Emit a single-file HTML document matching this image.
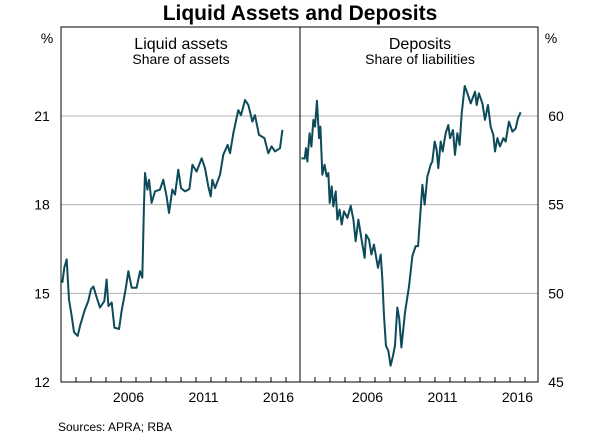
<!DOCTYPE html>
<html><head><meta charset="utf-8"><style>
body{margin:0;background:#fff;}
svg text{font-family:"Liberation Sans",Arial,sans-serif;fill:#000;}
</style></head><body>
<svg width="600" height="438" viewBox="0 0 600 438">
<g id="grid"></g>
<g id="lines"></g>
<g id="axes"></g>
<text x="300" y="20" font-size="21" font-weight="bold" text-anchor="middle">Liquid Assets and Deposits</text>
<text x="181" y="49" font-size="16" text-anchor="middle">Liquid assets</text>
<text x="181" y="64" font-size="14" text-anchor="middle">Share of assets</text>
<text x="420" y="49" font-size="16" text-anchor="middle">Deposits</text>
<text x="420" y="64" font-size="14" text-anchor="middle">Share of liabilities</text>
<text x="47" y="43" font-size="14" text-anchor="middle">%</text>
<text x="551" y="43" font-size="14" text-anchor="middle">%</text>
<text x="58" y="431" font-size="12">Sources:   APRA; RBA</text>
</svg>
<script>
const leftYears=[.09,.22,.38,.53,.71,.87,1.11,1.27,1.56,1.82,2.0,2.16,2.38,2.6,2.89,3.04,3.16,3.38,3.56,3.87,4.04,4.31,4.49,4.71,5.04,5.27,5.42,5.53,5.6,5.76,5.87,6.04,6.27,6.6,6.82,7.04,7.2,7.42,7.6,7.82,8.0,8.27,8.56,8.76,9.04,9.38,9.6,9.82,9.98,10.09,10.27,10.6,10.82,11.11,11.27,11.49,11.82,12.0,12.27,12.49,12.76,12.93,13.2,13.56,13.82,14.04,14.27,14.6,14.76];
const leftValues=[15.36,15.87,16.15,14.8,14.24,13.68,13.56,13.9,14.4,14.74,15.14,15.23,14.86,14.52,14.74,15.47,14.57,14.69,13.84,13.79,14.4,15.14,15.75,15.19,15.19,15.75,15.53,17.94,19.07,18.51,18.84,18.06,18.45,18.51,18.84,18.28,17.72,18.51,18.34,19.18,18.56,18.45,18.53,19.35,19.12,19.57,19.24,18.62,18.28,18.84,18.56,19.01,19.69,20.02,19.74,20.42,21.2,21.03,21.54,21.37,20.81,21.03,20.36,20.25,19.74,19.97,19.8,19.91,20.53];
const rightYears=[.09,.31,.4,.49,.64,.76,.89,1.0,1.13,1.27,1.36,1.49,1.64,1.78,1.89,1.98,2.11,2.22,2.38,2.49,2.64,2.78,2.93,3.16,3.38,3.56,3.71,3.89,4.16,4.31,4.4,4.6,4.76,4.93,5.2,5.38,5.49,5.6,5.73,5.89,6.04,6.2,6.33,6.49,6.62,6.76,7.0,7.27,7.49,7.71,7.87,7.98,8.16,8.31,8.49,8.71,8.82,8.98,9.11,9.22,9.38,9.51,9.71,9.89,10.0,10.2,10.33,10.49,10.64,10.78,10.98,11.16,11.38,11.67,11.78,11.93,12.16,12.33,12.53,12.71,12.89,13.0,13.16,13.33,13.56,13.71,13.93,14.16,14.38,14.53,14.71];
const rightValues=[57.62,57.6,58.19,57.43,59.03,58.28,59.78,59.4,60.86,58.75,59.4,56.69,57.25,56.59,56.78,55.1,56.03,54.9,55.75,54.16,54.72,53.88,54.62,54.25,54.94,54.16,52.94,54.16,52.75,52.0,53.31,53.03,52.19,52.75,51.44,52.19,50.79,48.73,47.04,46.76,45.92,46.48,47.04,49.2,48.54,46.95,48.92,50.41,52.1,52.66,52.66,53.97,56.12,55.0,56.59,57.25,57.43,58.56,58.09,57.06,58.56,58.0,59.03,59.49,58.75,59.21,57.81,59.03,58.37,60.15,61.69,61.28,60.71,61.37,60.62,61.28,60.71,59.78,60.62,59.4,58.93,58.0,58.75,58.28,58.75,58.56,59.68,59.12,59.3,59.87,60.21];
const leftTicks=[12,15,18,21];
const rightTicks=[45,50,55,60];
const yearLabels=[2006,2011,2016];
const NS='http://www.w3.org/2000/svg';
const plotTop=27,plotBot=382;
const yLeft=v=>382-(v-12)*(266/9);
const yRight=v=>382-(v-45)*(266/15);
const xL=y=>61+(y-2002)*15;
const xR=y=>300+(y-2002)*15;
function mk(tag,attrs,parent){const e=document.createElementNS(NS,tag);for(const k in attrs)e.setAttribute(k,attrs[k]);parent.appendChild(e);return e;}
const grid=document.getElementById('grid'),axes=document.getElementById('axes'),lines=document.getElementById('lines');
leftTicks.forEach((t,i)=>{
  const y=yLeft(t);
  if(i>0){const g=mk('line',{x1:61,x2:538,y1:y,y2:y,stroke:'#b0b0b0','stroke-width':1},grid);
  
  }
  const tx=mk('text',{x:42,y:y+5,'font-size':14,'text-anchor':'middle'},axes);tx.textContent=t;
  
  
});
rightTicks.forEach(t=>{
  const y=yRight(t);
  const tx=mk('text',{x:556,y:y+5,'font-size':14,'text-anchor':'middle'},axes);tx.textContent=t;
  
  
});
const frame=mk('rect',{x:61,y:plotTop,width:477,height:plotBot-plotTop,fill:'none',stroke:'#000','stroke-width':1},axes);


const div=mk('line',{x1:300,x2:300,y1:plotTop,y2:plotBot,stroke:'#000'},axes);


for(let yr=2003;yr<=2017;yr++){
  [xL(yr),xR(yr)].forEach(x=>{
    const t=mk('line',{x1:x,x2:x,y1:plotBot,y2:plotBot-5,stroke:'#000'},axes);
    
    
  });
}
yearLabels.forEach(yr=>{
  [xL(yr+0.5),xR(yr+0.5)].forEach(x=>{
    const tx=mk('text',{x:x,y:402,'font-size':14,'text-anchor':'middle'},axes);tx.textContent=yr;
    
    
  });
});
const pl=mk('polyline',{points:leftYears.map((y,i)=>xL(2002+y)+','+yLeft(leftValues[i])).join(' '),fill:'none',stroke:'#0d4a5a','stroke-width':2,'stroke-linejoin':'round'},lines);


const pr=mk('polyline',{points:rightYears.map((y,i)=>xR(2002+y)+','+yRight(rightValues[i])).join(' '),fill:'none',stroke:'#0d4a5a','stroke-width':2,'stroke-linejoin':'round'},lines);


</script>
</body></html>
